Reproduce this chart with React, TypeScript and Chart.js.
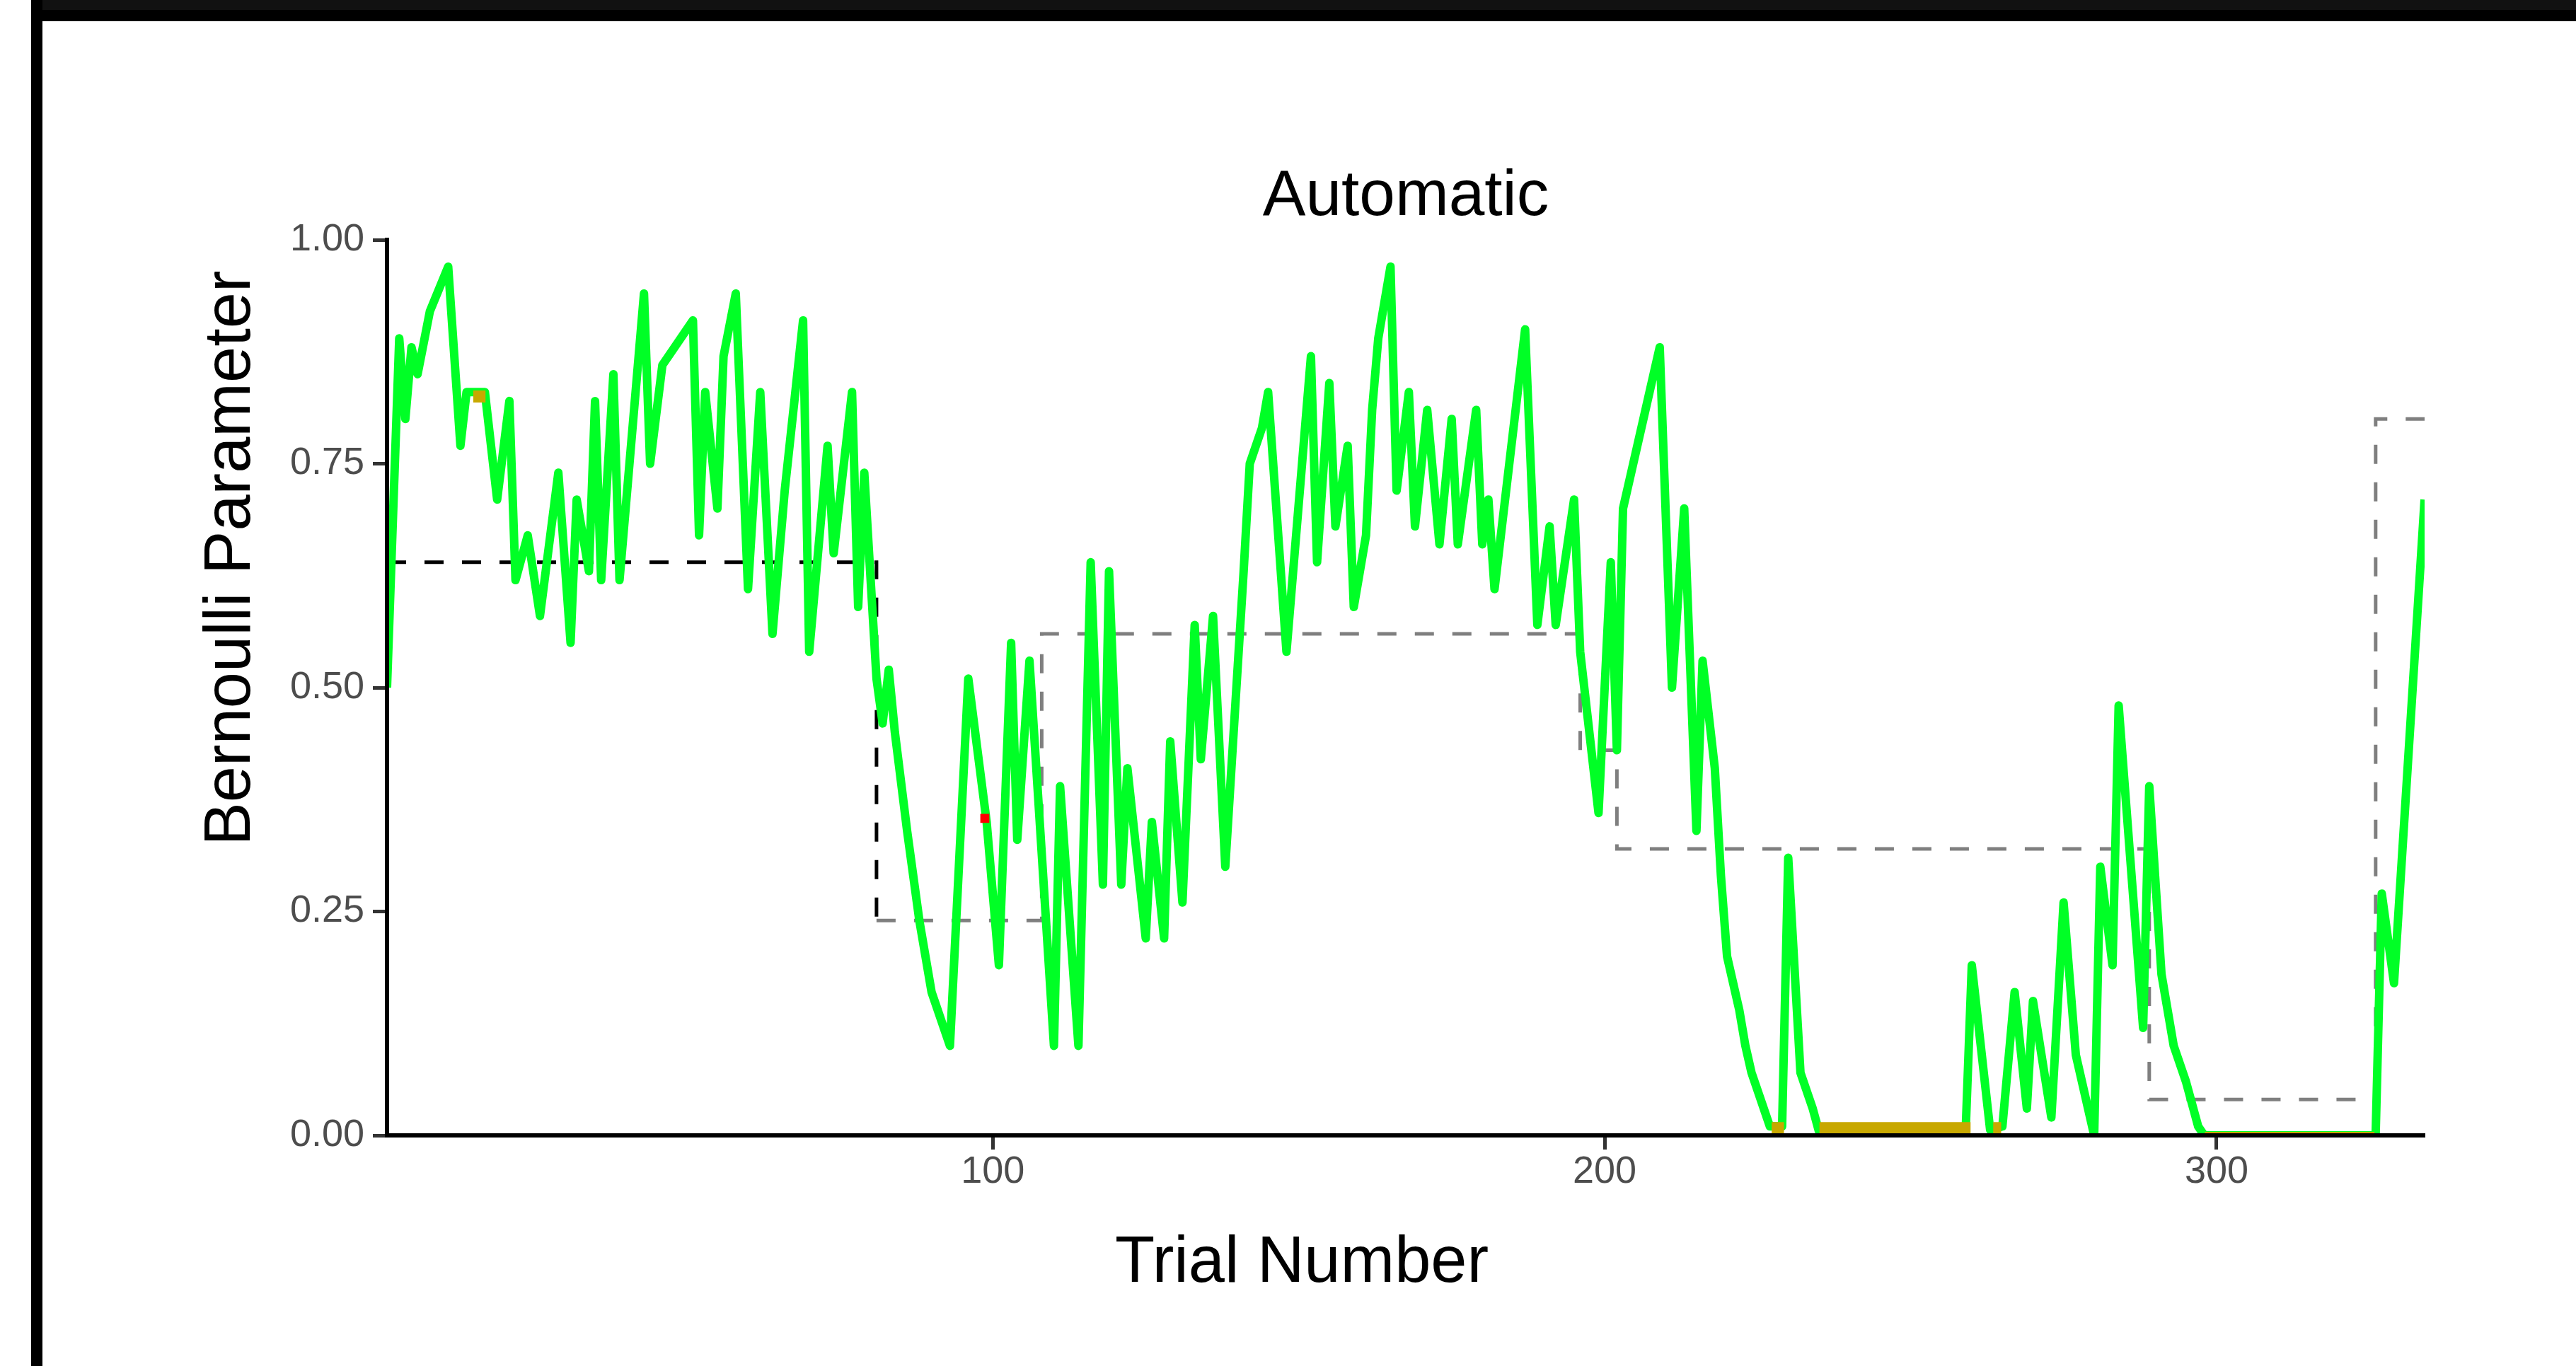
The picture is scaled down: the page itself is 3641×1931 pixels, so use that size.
import { useEffect, useRef } from "react";
import { Chart, registerables } from "chart.js";

Chart.register(...registerables);

// ---- data ----
const trialNumber = [
  1, 3, 4, 5, 6, 8, 11, 13, 14, 15, 17, 19, 21, 22, 24, 26, 29, 31, 32, 34,
  35, 36, 38, 39, 43, 44, 46, 48, 51, 52, 53, 55, 56, 58, 60, 62, 64, 66, 69, 70,
  73, 74, 77, 78, 79, 81, 82, 83, 84, 86, 88, 90, 93, 96, 99, 101, 103, 104, 106, 110,
  111, 114, 116, 118, 119, 121, 122, 125, 126, 128, 129, 131, 133, 134, 136, 138, 141, 142, 144, 145,
  148, 152, 153, 155, 156, 158, 159, 161, 162, 163, 165, 166, 168, 169, 171, 173, 175, 176, 179, 180,
  181, 182, 187, 189, 191, 192, 195, 196, 199, 201, 202, 203, 209, 211, 213, 215, 216, 218, 219, 220,
  222, 223, 224, 226, 227, 229, 230, 232, 234, 235, 259, 260, 263, 265, 267, 269, 270, 273, 275, 277,
  280, 281, 283, 284, 288, 289, 291, 293, 295, 297, 298, 326, 327, 329, 334,
];
const bernoulliEstimate = [
  0.5, 0.89, 0.8, 0.88, 0.85, 0.92, 0.97, 0.77, 0.83, 0.83, 0.83, 0.71, 0.82, 0.62, 0.67, 0.58, 0.74, 0.55, 0.71, 0.63,
  0.82, 0.62, 0.85, 0.62, 0.94, 0.75, 0.86, 0.88, 0.91, 0.67, 0.83, 0.7, 0.87, 0.94, 0.61, 0.83, 0.56, 0.72, 0.91, 0.54,
  0.77, 0.65, 0.83, 0.59, 0.74, 0.51, 0.46, 0.52, 0.45, 0.34, 0.24, 0.16, 0.1, 0.51, 0.35, 0.19, 0.55, 0.33, 0.53, 0.1,
  0.39, 0.1, 0.64, 0.28, 0.63, 0.28, 0.41, 0.22, 0.35, 0.22, 0.44, 0.26, 0.57, 0.42, 0.58, 0.3, 0.63, 0.75, 0.79, 0.83,
  0.54, 0.87, 0.64, 0.84, 0.68, 0.77, 0.59, 0.67, 0.81, 0.89, 0.97, 0.72, 0.83, 0.68, 0.81, 0.66, 0.8, 0.66, 0.81, 0.66,
  0.71, 0.61, 0.9, 0.57, 0.68, 0.57, 0.71, 0.54, 0.36, 0.64, 0.43, 0.7, 0.88, 0.5, 0.7, 0.34, 0.53, 0.41, 0.29, 0.2,
  0.14, 0.1, 0.07, 0.03, 0.01, 0.01, 0.31, 0.07, 0.03, 0.005, 0.005, 0.19, 0.006, 0.01, 0.16, 0.03, 0.15, 0.02, 0.26, 0.09,
  0, 0.3, 0.19, 0.48, 0.12, 0.39, 0.18, 0.1, 0.06, 0.01, 0, 0, 0.27, 0.17, 0.71,
];

// dashed step line (generating parameter)
const changeTrial = [1, 81, 81, 108, 108, 196, 196, 202, 202, 289, 289, 326, 326, 334];
const trueParameter = [0.64, 0.64, 0.24, 0.24, 0.56, 0.56, 0.43, 0.43, 0.32, 0.32, 0.04, 0.04, 0.8, 0.8];

// gold stretches
const stuckTrial = [15.1, 17.1, 17.1, 227.3, 229.3, 229.3, 235.1, 259.8, 259.8, 263.5, 264.8];
const stuckValue = [0.825, 0.825, null, 0.008, 0.008, null, 0.008, 0.008, null, 0.008, 0.008];
const floorTrial = [298.1, 325.8];
const floorValue = [0, 0];

// red marker
const flagTrial = [98.7];
const flagValue = [0.354];

const yTicks = [0, 0.25, 0.5, 0.75, 1];
const xTicks = [100, 200, 300];

const chartTitle = "Automatic";
const xTitle = "Trial Number";
const yTitle = "Bernoulli Parameter";

const FONT = '"Liberation Sans", Arial, Helvetica, sans-serif';

const pts = (xs: number[], ys: (number | null)[]) => xs.map((x, i) => ({ x, y: ys[i] }));

const axisTitles = {
  id: "axisTitles",
  afterDraw(chart: any) {
    const ctx = chart.ctx as CanvasRenderingContext2D;
    ctx.save();
    ctx.fillStyle = "#000000";
    ctx.font = `92px ${FONT}`;
    ctx.textAlign = "center";
    ctx.textBaseline = "alphabetic";
    ctx.fillText(xTitle, 1840, 1812);
    ctx.translate(353, 789);
    ctx.rotate(-Math.PI / 2);
    ctx.fillText(yTitle, 0, 0);
    ctx.restore();
  },
};

export default function App() {
  const ref = useRef<HTMLCanvasElement>(null);

  useEffect(() => {
    document.body.style.margin = "0";
    const canvas = ref.current!;
    const chart = new Chart(canvas, {
      type: "line",
      data: {
        datasets: [
          {
            label: "flag",
            data: pts(flagTrial, flagValue),
            showLine: false,
            pointStyle: "rect",
            pointRadius: 9,
            pointBorderWidth: 0,
            pointBackgroundColor: "#ff0000",
            borderColor: "#ff0000",
          },
          {
            label: "stuck",
            data: pts(stuckTrial, stuckValue),
            borderColor: "#c8a800",
            borderWidth: 17,
            borderCapStyle: "butt",
            pointRadius: 0,
            spanGaps: false,
            clip: 0,
          },
          {
            label: "floor",
            data: pts(floorTrial, floorValue),
            borderColor: "#c8a800",
            borderWidth: 10,
            pointRadius: 0,
            clip: 0,
          },
          {
            label: "estimate",
            data: pts(trialNumber, bernoulliEstimate),
            borderColor: "#00ff26",
            borderWidth: 12,
            borderJoinStyle: "round",
            pointRadius: 0,
            tension: 0,
            clip: 0,
          },
          {
            label: "true",
            data: pts(changeTrial, trueParameter),
            borderColor: "#7f7f7f",
            borderWidth: 5,
            borderDash: [27, 26],
            pointRadius: 0,
            segment: {
              borderColor: (c: any) => (c.p0DataIndex < 2 ? "#000000" : "#7f7f7f"),
            },
          },
        ] as any,
      },
      options: {
        responsive: false,
        animation: false,
        devicePixelRatio: 1,
        events: [],
        layout: { padding: { left: 100, right: 214, top: 224, bottom: 0 } },
        plugins: {
          legend: { display: false },
          tooltip: { enabled: false },
          title: {
            display: true,
            text: chartTitle,
            color: "#000000",
            fullSize: false,
            font: { family: FONT, size: 91, weight: "normal" },
            padding: { top: 0, bottom: 5.8 },
          },
        },
        scales: {
          x: {
            type: "linear",
            min: 1,
            max: 334,
            afterBuildTicks: (s: any) => {
              s.ticks = xTicks.map((v) => ({ value: v }));
            },
            afterFit: (s: any) => {
              s.height = 326;
            },
            ticks: {
              autoSkip: false,
              maxRotation: 0,
              padding: 0,
              color: "#4d4d4d",
              font: { family: FONT, size: 54 },
            },
            grid: {
              drawOnChartArea: false,
              drawTicks: true,
              tickLength: 20,
              tickWidth: 5,
              tickColor: "#333333",
            },
            border: { display: true, color: "#000000", width: 6, z: 1 },
          },
          y: {
            type: "linear",
            min: 0,
            max: 1,
            afterBuildTicks: (s: any) => {
              s.ticks = yTicks.map((v) => ({ value: v }));
            },
            afterFit: (s: any) => {
              s.width = 447;
            },
            ticks: {
              padding: 12,
              color: "#4d4d4d",
              font: { family: FONT, size: 54 },
              callback: (v: any) => Number(v).toFixed(2),
            },
            grid: {
              drawOnChartArea: false,
              drawTicks: true,
              tickLength: 20,
              tickWidth: 5,
              tickColor: "#333333",
            },
            border: { display: true, color: "#000000", width: 6, z: 1 },
          },
        },
      } as any,
      plugins: [axisTitles],
    });
    return () => chart.destroy();
  }, []);

  return (
    <div
      style={{
        position: "absolute",
        left: 0,
        top: 0,
        width: 3641,
        height: 1931,
        background: "#ffffff",
        overflow: "hidden",
      }}
    >
      <canvas
        ref={ref}
        width={3641}
        height={1931}
        style={{ position: "absolute", left: 0, top: 0, width: 3641, height: 1931 }}
      />
      <div style={{ position: "absolute", left: 44, top: 0, width: 3597, height: 14, background: "#111111" }} />
      <div style={{ position: "absolute", left: 44, top: 14, width: 3597, height: 16, background: "#000000" }} />
      <div style={{ position: "absolute", left: 44, top: 0, width: 16, height: 1931, background: "#000000" }} />
    </div>
  );
}
